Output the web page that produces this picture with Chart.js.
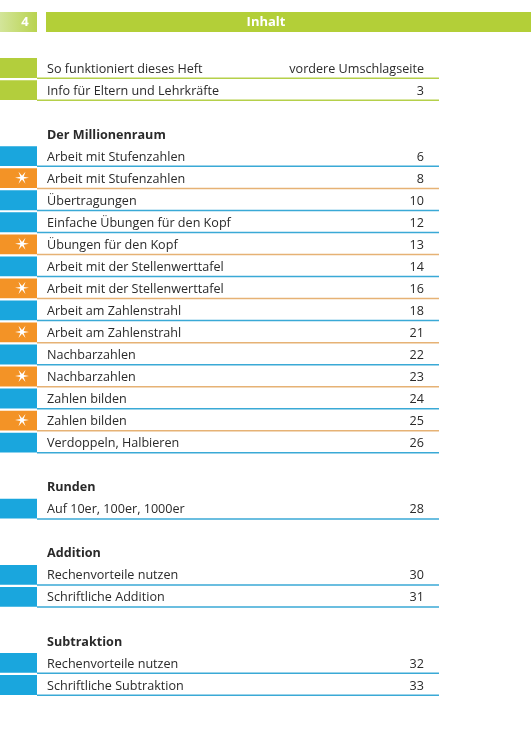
<!DOCTYPE html>
<html lang="de">
<head>
<meta charset="utf-8">
<title>Inhalt</title>
<script src="https://cdn.jsdelivr.net/npm/chart.js@4.4.1/dist/chart.umd.min.js"></script>
<style>
  html, body { margin: 0; padding: 0; background: #fff; }
  #toc { display: block; }
</style>
</head>
<body>
<canvas id="toc" width="531" height="750"></canvas>
<script>
const pageNumber = '4';
const pageTitle = 'Inhalt';

// one entry per line of the page, '' = empty line
const titles = [
  'So funktioniert dieses Heft', 'Info für Eltern und Lehrkräfte', '',
  'Der Millionenraum',
  'Arbeit mit Stufenzahlen', 'Arbeit mit Stufenzahlen', 'Übertragungen',
  'Einfache Übungen für den Kopf', 'Übungen für den Kopf',
  'Arbeit mit der Stellenwerttafel', 'Arbeit mit der Stellenwerttafel',
  'Arbeit am Zahlenstrahl', 'Arbeit am Zahlenstrahl',
  'Nachbarzahlen', 'Nachbarzahlen', 'Zahlen bilden', 'Zahlen bilden',
  'Verdoppeln, Halbieren', '',
  'Runden', 'Auf 10er, 100er, 1000er', '',
  'Addition', 'Rechenvorteile nutzen', 'Schriftliche Addition', '',
  'Subtraktion', 'Rechenvorteile nutzen', 'Schriftliche Subtraktion'
];
const pages = [
  'vordere Umschlagseite', '3', '',
  '',
  '6', '8', '10', '12', '13', '14', '16', '18', '21', '22', '23', '24', '25', '26', '',
  '', '28', '',
  '', '30', '31', '',
  '', '32', '33'
];
// intro = green, basic = blue, star = orange with star, head = section heading
const kinds = [
  'intro', 'intro', '',
  'head',
  'basic', 'star', 'basic', 'basic', 'star', 'basic', 'star', 'basic', 'star',
  'basic', 'star', 'basic', 'star', 'basic', '',
  'head', 'basic', '',
  'head', 'basic', 'basic', '',
  'head', 'basic', 'basic'
];

const blockColors = { intro: '#b3ce3c', basic: '#1aa6dd', star: '#f39326' };
const lineColors = { intro: '#b5d04a', basic: '#3aa9d6', star: '#e6b275' };
const green = '#b3cf38';
const textColor = '#2a2a2a';
const font = '"Open Sans", "DejaVu Sans", sans-serif';

const hasBlock = k => k === 'intro' || k === 'basic' || k === 'star';

function drawStar(ctx, cx, cy, r1, r2) {
  ctx.beginPath();
  for (let i = 0; i < 12; i++) {
    const r = i % 2 === 0 ? r1 : r2;
    const a = i * Math.PI / 6;
    const px = cx + r * Math.cos(a);
    const py = cy + r * Math.sin(a);
    if (i === 0) ctx.moveTo(px, py); else ctx.lineTo(px, py);
  }
  ctx.closePath();
  ctx.fill();
}

const tocPlugin = {
  id: 'toc',
  beforeDraw(chart) {
    const ctx = chart.ctx;
    const x = chart.scales.x;
    // header strip
    const top = 12, bottom = 32;
    const l0 = x.getPixelForValue(0), l1 = x.getPixelForValue(37);
    const grad = ctx.createLinearGradient(l0, 0, l1, 0);
    grad.addColorStop(0, '#d3e59a');
    grad.addColorStop(1, '#b9d34f');
    ctx.save();
    ctx.fillStyle = grad;
    ctx.fillRect(l0, top, l1 - l0, bottom - top);
    const m0 = x.getPixelForValue(46), m1 = x.getPixelForValue(531);
    ctx.fillStyle = green;
    ctx.fillRect(m0, top, m1 - m0, bottom - top);
    ctx.fillStyle = '#fff';
    ctx.font = 'bold 13px ' + font;
    ctx.textAlign = 'center';
    ctx.textBaseline = 'middle';
    ctx.fillText(pageNumber, x.getPixelForValue(25), (top + bottom) / 2 + 0.5);
    ctx.fillText(pageTitle, x.getPixelForValue(266), (top + bottom) / 2 + 0.5);
    ctx.restore();
  },
  afterDatasetsDraw(chart) {
    const ctx = chart.ctx;
    const x = chart.scales.x;
    const y = chart.scales.y;
    const half = (y.getPixelForValue(1) - y.getPixelForValue(0)) / 2;
    ctx.save();
    titles.forEach((t, i) => {
      const cy = y.getPixelForValue(i);
      const k = kinds[i];
      if (hasBlock(k)) {
        ctx.strokeStyle = lineColors[k];
        ctx.lineWidth = 1.5;
        ctx.beginPath();
        ctx.moveTo(x.getPixelForValue(37), cy + half - 0.8);
        ctx.lineTo(x.getPixelForValue(439), cy + half - 0.8);
        ctx.stroke();
      }
      if (k === 'star') {
        ctx.fillStyle = '#fff';
        drawStar(ctx, x.getPixelForValue(22), cy - 0.5, 7, 1.9);
      }
      if (!t) return;
      ctx.fillStyle = textColor;
      ctx.textBaseline = 'middle';
      ctx.textAlign = 'left';
      ctx.font = (k === 'head' ? 'bold ' : '') + '12.6px ' + font;
      ctx.fillText(t, x.getPixelForValue(47), cy + 1);
      if (pages[i]) {
        ctx.font = '12.6px ' + font;
        ctx.textAlign = 'right';
        ctx.fillText(pages[i], x.getPixelForValue(424), cy + 1);
      }
    });
    ctx.restore();
  }
};

new Chart(document.getElementById('toc'), {
  type: 'bar',
  data: {
    labels: titles.map((t, i) => String(i)),
    datasets: [{
      label: 'Blöcke',
      data: kinds.map(k => hasBlock(k) ? [0, 37] : null),
      backgroundColor: kinds.map(k => blockColors[k] || 'rgba(0,0,0,0)'),
      borderWidth: 0,
      barPercentage: 0.9,
      categoryPercentage: 1
    }]
  },
  options: {
    indexAxis: 'y',
    responsive: false,
    animation: false,
    events: [],
    layout: { padding: { top: 57, bottom: 54, left: 0, right: 0 } },
    scales: {
      x: { type: 'linear', min: 0, max: 531, display: false },
      y: { type: 'category', display: false }
    },
    plugins: {
      legend: { display: false },
      tooltip: { enabled: false }
    }
  },
  plugins: [tocPlugin]
});
</script>
</body>
</html>
